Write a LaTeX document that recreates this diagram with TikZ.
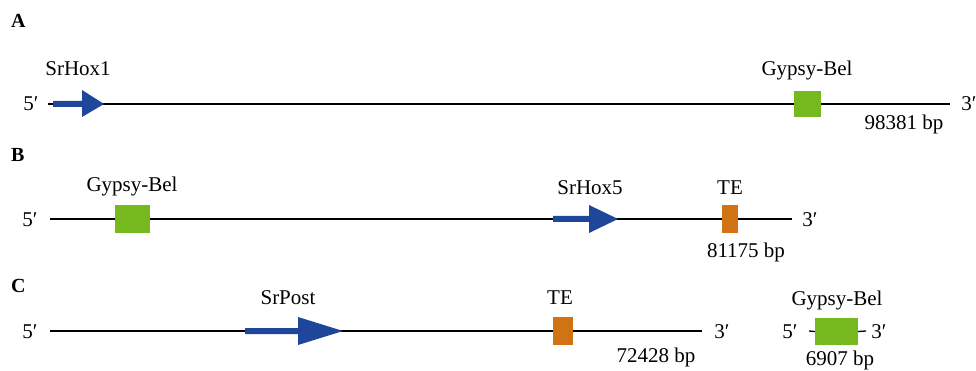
\documentclass[tikz,border=0pt]{standalone}
\usepackage{fontspec}
\setmainfont{Liberation Serif}
\definecolor{geneblue}{RGB}{30,70,155}
\definecolor{tegreen}{RGB}{118,185,30}
\definecolor{teorange}{RGB}{208,115,20}
\begin{document}
\begin{tikzpicture}[x=1pt,y=-1pt,
  lbl/.style={anchor=base,inner sep=0pt,font=\fontsize{21}{23}\selectfont},
  panel/.style={anchor=base west,inner sep=0pt,font=\fontsize{20}{22}\selectfont\bfseries},
  chrom/.style={line width=1.3pt,black},
  gbox/.style={fill=tegreen,draw=none,inner sep=0pt},
  obox/.style={fill=teorange,draw=none,inner sep=0pt},
  gene/.style={fill=geneblue,draw=none}]
\path[use as bounding box,fill=white] (0,0) rectangle (976,371);
% ---------- A ----------
\node[panel] (pA) at (11,28) {A};
\coordinate (a0) at (48,104);
\coordinate (a1) at (950,104);
\draw[chrom] (a0) -- (a1);
\node[lbl] (a5) at (31,111) {5′};
\node[lbl] (a3) at (969,111) {3′};
\fill[gene] (53,101) rectangle (82,107) (82,90) -- (104,104) -- (82,117) -- cycle;
\node[lbl] (agene) at (78,76) {SrHox1};
\node[gbox,minimum width=27pt,minimum height=26pt] (agyp) at (807,104) {};
\node[lbl] (agypl) at (807,76) {Gypsy-Bel};
\node[lbl] (alen) at (904,130) {98381 bp};
% ---------- B ----------
\node[panel] (pB) at (11,162) {B};
\coordinate (b0) at (50,219);
\coordinate (b1) at (792,219);
\draw[chrom] (b0) -- (b1);
\node[lbl] (b5) at (30,226) {5′};
\node[lbl] (b3) at (810,226) {3′};
\node[gbox,minimum width=35pt,minimum height=28pt] (bgyp) at (132,219) {};
\node[lbl] (bgypl) at (132,192) {Gypsy-Bel};
\fill[gene] (553,216) rectangle (589,222) (589,205) -- (618,219) -- (589,233) -- cycle;
\node[lbl] (bgene) at (590,195) {SrHox5};
\node[obox,minimum width=16pt,minimum height=28pt] (bte) at (730,219) {};
\node[lbl] (btel) at (730,195) {TE};
\node[lbl] (blen) at (746,258) {81175 bp};
% ---------- C ----------
\node[panel] (pC) at (11,292) {C};
\coordinate (c0) at (50,331);
\coordinate (c1) at (702,331);
\draw[chrom] (c0) -- (c1);
\node[lbl] (c5) at (30,338) {5′};
\node[lbl] (c3) at (722,338) {3′};
\fill[gene] (245,328) rectangle (298,334) (298,317) -- (343,331) -- (298,345) -- cycle;
\node[lbl] (cgene) at (288,304) {SrPost};
\node[obox,minimum width=20pt,minimum height=28pt] (cte) at (563,331) {};
\node[lbl] (ctel) at (560,304) {TE};
\node[lbl] (clen) at (656,362) {72428 bp};
% separate Gypsy-Bel
\node[gbox,minimum width=43pt,minimum height=27pt] (dgyp) at (836.5,331.5) {};
\coordinate (d0) at (809,331);
\coordinate (d1) at (866,331);
\draw[chrom] (d0) -- (dgyp.west) (dgyp.east) -- (d1);
\node[lbl] (d5) at (790,338) {5′};
\node[lbl] (d3) at (879,338) {3′};
\node[lbl] (dgypl) at (837,305) {Gypsy-Bel};
\node[lbl] (dlen) at (840,365) {6907 bp};
\end{tikzpicture}
\end{document}
